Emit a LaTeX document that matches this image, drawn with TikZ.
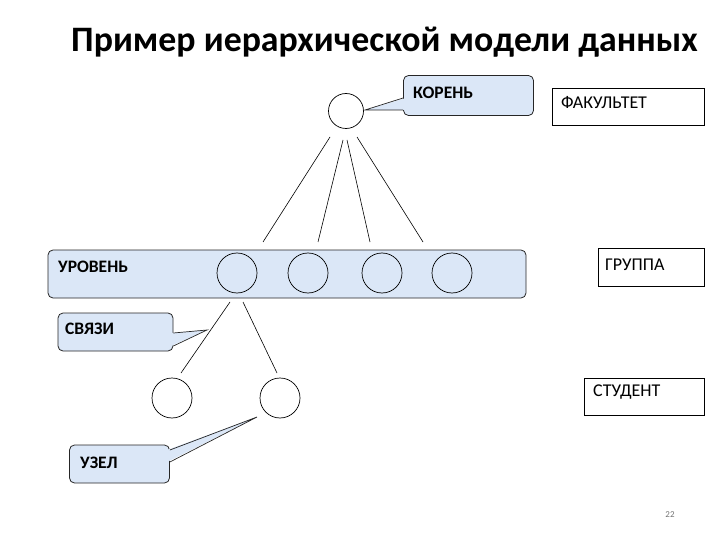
\documentclass[tikz,border=0pt]{standalone}
\usepackage{fontspec}
\setmainfont{Carlito}
\definecolor{callblue}{RGB}{219,231,247}
\begin{document}
\begin{tikzpicture}[x=1pt,y=-1pt,
  circnode/.style={circle, draw, line width=0.7pt, inner sep=0pt, minimum size=40pt},
  callbox/.style={draw=black!85, fill=callblue, rounded corners=5pt, line width=0.8pt, inner sep=0pt},
  tailfill/.style={fill=callblue, draw=none},
  tailline/.style={draw=black!85, line width=0.7pt},
  plainbox/.style={draw, line width=0.9pt, inner sep=0pt},
  boldlbl/.style={font=\fontsize{17.5}{20}\selectfont\bfseries, anchor=west, inner sep=0pt},
  plainlbl/.style={font=\fontsize{18}{20}\selectfont, anchor=west, inner sep=0pt},
  link/.style={line width=0.6pt}]
\useasboundingbox (0,0) rectangle (720,540);

% title
\node[font=\fontsize{35.8}{40}\selectfont\bfseries, inner sep=0pt] (title) at (384.5,42) {Пример иерархической модели данных};

% right plain boxes
\node[plainbox, minimum width=152pt, minimum height=37pt] (fac) at (628,106.5) {};
\node[plainlbl] (factxt) at (561,103) {ФАКУЛЬТЕТ};
\node[plainbox, minimum width=106pt, minimum height=38pt] (grp) at (651,267) {};
\node[plainlbl] (grptxt) at (605,265) {ГРУППА};
\node[plainbox, minimum width=120pt, minimum height=37pt] (stu) at (644,396.5) {};
\node[plainlbl] (stutxt) at (593,392) {СТУДЕНТ};

% root + callout
\node[circnode, minimum size=35pt] (root) at (346,111) {};
\node[callbox, minimum width=130pt, minimum height=40pt] (koren) at (468.5,95.5) {};
\coordinate (kt) at (365,110);
\fill[tailfill] (406,98) -- (kt) -- (406,110) -- cycle;
\draw[tailline] (koren.west |- 0,98) -- (kt) -- (koren.west |- 0,110);
\node[boldlbl] (korentxt) at (413,93) {КОРЕНЬ};

% level band
\node[callbox, minimum width=478pt, minimum height=48pt] (band) at (287,274) {};
\node[boldlbl] (bandtxt) at (58,267) {УРОВЕНЬ};
\node[circnode] (c1) at (237,273) {};
\node[circnode] (c2) at (308,273) {};
\node[circnode] (c3) at (382,273) {};
\node[circnode] (c4) at (452,273) {};

% links root -> level
\coordinate (r1) at (330,137); \coordinate (e1) at (263,242);
\coordinate (r2) at (343,140); \coordinate (e2) at (318,242);
\coordinate (r3) at (347,140); \coordinate (e3) at (370,242);
\coordinate (r4) at (357,137); \coordinate (e4) at (423,242);
\draw[link] (r1) -- (e1);
\draw[link] (r2) -- (e2);
\draw[link] (r3) -- (e3);
\draw[link] (r4) -- (e4);

% second level
\node[circnode] (d1) at (172,398) {};
\node[circnode] (d2) at (280,398) {};
\coordinate (s1) at (230,302); \coordinate (f1) at (181,373);
\coordinate (s2) at (243,302); \coordinate (f2) at (277,373);
\draw[link] (s1) -- (f1);
\draw[link] (s2) -- (f2);

% svyazi callout
\node[callbox, minimum width=115pt, minimum height=38pt] (svyaz) at (115.5,332) {};
\coordinate (st) at (207,330);
\fill[tailfill] (171,333) -- (st) -- (171,346) -- cycle;
\draw[tailline] (svyaz.east |- 0,333) -- (st) -- (svyaz.east |- 0,346);
\node[boldlbl] (svyaztxt) at (65,329) {СВЯЗИ};

% uzel callout
\node[callbox, minimum width=100pt, minimum height=38pt] (uzel) at (119.5,464) {};
\coordinate (ut) at (257,417);
\fill[tailfill] (167,450) -- (ut) -- (167,462) -- cycle;
\draw[tailline] (uzel.east |- 0,450) -- (ut) -- (uzel.east |- 0,462);
\node[boldlbl] (uzeltxt) at (80,463) {УЗЕЛ};

% page number
\node[font=\fontsize{9}{10}\selectfont, text=black!55, inner sep=0pt] (pg) at (670,515) {22};
\end{tikzpicture}
\end{document}
